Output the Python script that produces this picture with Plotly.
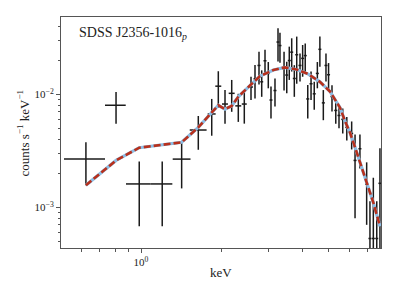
import plotly.graph_objects as go

# ---- data ----
energy_keV = [0.623, 0.807, 0.985, 1.20, 1.418, 1.636,
              1.836, 1.943, 2.058, 2.18, 2.307, 2.429, 2.573, 2.663, 2.756, 2.821,
              2.902, 2.985, 3.055, 3.162, 3.245, 3.30, 3.418, 3.498, 3.575, 3.65,
              3.733, 3.811, 3.92, 4.01, 4.10, 4.19, 4.31, 4.43, 4.55, 4.65,
              4.79, 4.90, 5.01, 5.16, 5.33, 5.48, 5.66, 5.86, 6.11, 6.29,
              6.56, 6.95, 7.15, 7.36, 7.58, 7.79]
energy_err_lo = [0.107, 0.073, 0.106, 0.113, 0.105, 0.116,
                 0.063, 0.050, 0.053, 0.056, 0.059, 0.052, 0.044, 0.034, 0.036, 0.036,
                 0.037, 0.038, 0.039, 0.041, 0.042, 0.043, 0.044, 0.045, 0.046, 0.047,
                 0.048, 0.049, 0.051, 0.052, 0.053, 0.054, 0.056, 0.057, 0.059, 0.060,
                 0.062, 0.063, 0.065, 0.067, 0.069, 0.071, 0.073, 0.076, 0.079, 0.081,
                 0.085, 0.090, 0.092, 0.095, 0.098, 0.100]
energy_err_hi = [0.111, 0.070, 0.102, 0.109, 0.112, 0.121,
                 0.063, 0.050, 0.053, 0.056, 0.059, 0.052, 0.044, 0.034, 0.036, 0.036,
                 0.037, 0.038, 0.039, 0.041, 0.042, 0.043, 0.044, 0.045, 0.046, 0.047,
                 0.048, 0.049, 0.051, 0.052, 0.053, 0.054, 0.056, 0.057, 0.059, 0.060,
                 0.062, 0.063, 0.065, 0.067, 0.069, 0.071, 0.073, 0.076, 0.079, 0.081,
                 0.085, 0.090, 0.092, 0.095, 0.098, 0.100]
counts = [2.67e-3, 8.0e-3, 1.61e-3, 1.61e-3, 2.67e-3, 4.83e-3,
          6.7e-3, 0.0118, 8.2e-3, 0.0102, 7.9e-3, 8.2e-3, 0.0116, 0.0137, 0.018, 0.0129,
          0.0198, 0.0153, 8.9e-3, 0.0108, 0.029, 0.027, 0.0173, 0.0148, 0.0199, 0.0236,
          0.0138, 0.0224, 0.018, 0.0208, 0.022, 9.1e-3, 0.0124, 0.0101, 0.0153, 0.025,
          8.4e-3, 0.018, 0.0149, 9.55e-3, 7.2e-3, 6.5e-3, 6.0e-3, 5.1e-3, 4.5e-3, 2.6e-3,
          3.3e-3, 1.6e-3, 5.3e-4, 5.3e-4, 5.3e-4, 1.63e-3]
counts_err = [1.1e-3, 2.5e-3, 0.93e-3, 0.93e-3, 1.2e-3, 1.6e-3,
              2.4e-3, 4.2e-3, 2.7e-3, 3.2e-3, 2.2e-3, 2.7e-3, 2.7e-3, 4.5e-3, 5.8e-3, 3.4e-3,
              5.0e-3, 4.0e-3, 2.8e-3, 3.0e-3, 9.5e-3, 8.0e-3, 6.5e-3, 4.6e-3, 6.5e-3, 7.7e-3,
              4.3e-3, 0.0100, 5.0e-3, 6.5e-3, 6.2e-3, 3.0e-3, 3.5e-3, 2.8e-3, 4.0e-3, 7.5e-3,
              2.5e-3, 5.0e-3, 4.0e-3, 2.5e-3, 1.7e-3, 1.5e-3, 1.5e-3, 1.2e-3, 1.25e-3, 1.8e-3,
              1.1e-3, 0.9e-3, 6.0e-4, 1.3e-3, 6.0e-4, 1.7e-3]

model_keV = [0.623, 0.807, 0.985, 1.20, 1.418, 1.636, 1.836, 1.943, 2.058, 2.18,
             2.307, 2.429, 2.573, 2.78, 3.12, 3.44, 3.81, 4.21, 4.65, 5.07,
             5.33, 5.53, 5.77, 6.02, 6.29, 6.56, 6.95, 7.36, 7.79]
model_counts = [1.57e-3, 2.6e-3, 3.37e-3, 3.55e-3, 3.76e-3, 5.1e-3, 7.0e-3, 8.0e-3, 7.4e-3, 7.9e-3,
                9.5e-3, 0.0108, 0.0122, 0.0145, 0.0164, 0.0173, 0.0166, 0.0151, 0.0129, 0.0106,
                8.8e-3, 7.6e-3, 5.8e-3, 4.6e-3, 3.4e-3, 2.5e-3, 1.63e-3, 1.1e-3, 6.8e-4]

x_tickvals = [1]
x_ticktext = ["10<sup>0</sup>"]
x_minor = [0.6, 0.7, 0.8, 0.9, 2, 3, 4, 5, 6, 7]
y_tickvals = [1e-3, 1e-2]
y_ticktext = ["10<sup>\u22123</sup>", "10<sup>\u22122</sup>"]
y_minor = [5e-4, 6e-4, 7e-4, 8e-4, 9e-4, 2e-3, 3e-3, 4e-3, 5e-3, 6e-3, 7e-3, 8e-3, 9e-3,
           2e-2, 3e-2, 4e-2]

label_text = "SDSS J2356-1016<sub><i>p</i></sub>"

# lower errors clipped so they stay positive on the log axis
err_minus = [min(e, 0.999 * v) for e, v in zip(counts_err, counts)]

FONT = "Liberation Serif"
INK = "#1a1a1a"

fig = go.Figure()
fig.add_trace(go.Scatter(
    x=energy_keV, y=counts, mode="markers",
    marker=dict(size=1, color=INK, opacity=0),
    error_x=dict(type="data", symmetric=False, array=energy_err_hi,
                 arrayminus=energy_err_lo, width=0, thickness=1.5, color=INK),
    error_y=dict(type="data", symmetric=False, array=counts_err,
                 arrayminus=err_minus, width=0, thickness=1.5, color=INK),
    showlegend=False, hoverinfo="skip"))
fig.add_trace(go.Scatter(
    x=model_keV, y=model_counts, mode="lines",
    line=dict(color="#8dbde3", width=3.2), showlegend=False))
fig.add_trace(go.Scatter(
    x=model_keV, y=model_counts, mode="lines",
    line=dict(color="#b8301c", width=2.6, dash="7px,3px"), showlegend=False))

axis_common = dict(showgrid=False, zeroline=False, showline=True, mirror=True,
                   linecolor="#555555", linewidth=1, ticks="outside", ticklen=4,
                   tickwidth=1, tickcolor="#555555",
                   tickfont=dict(family=FONT, size=11, color="#222222"))

fig.update_xaxes(type="log", range=[-0.2985, 0.8955], tickmode="array",
                 tickvals=x_tickvals, ticktext=x_ticktext,
                 minor=dict(tickmode="array", tickvals=x_minor, ticks="outside",
                            ticklen=2.5, tickcolor="#555555", showgrid=False),
                 **axis_common)
fig.update_yaxes(type="log", range=[-3.36, -1.316], tickmode="array",
                 tickvals=y_tickvals, ticktext=y_ticktext,
                 minor=dict(tickmode="array", tickvals=y_minor, ticks="outside",
                            ticklen=2.5, tickcolor="#555555", showgrid=False),
                 **axis_common)

fig.add_annotation(text=label_text, xref="paper", yref="paper", x=0.05, y=0.93,
                   xanchor="left", yanchor="middle", showarrow=False,
                   font=dict(family=FONT, size=14, color="#222222"))
fig.add_annotation(text="counts s<sup>\u22121</sup> keV<sup>\u22121</sup>",
                   xref="paper", yref="paper", x=-0.119, y=0.5, textangle=-90,
                   xanchor="center", yanchor="middle", showarrow=False,
                   font=dict(family=FONT, size=13, color="#222222"))
fig.add_annotation(text="keV", xref="paper", yref="paper", x=0.5, y=-0.108,
                   xanchor="center", yanchor="middle", showarrow=False,
                   font=dict(family=FONT, size=13, color="#222222"))

# the page body adds an 8px offset, so margins are shifted to compensate
fig.update_layout(width=399, height=299, margin=dict(l=53, r=26, t=9, b=59),
                  paper_bgcolor="white", plot_bgcolor="white")
fig.write_html("out.html")
